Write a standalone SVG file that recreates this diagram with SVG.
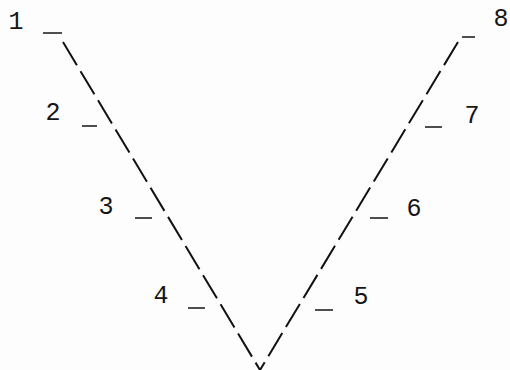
<svg xmlns="http://www.w3.org/2000/svg" width="510" height="370" viewBox="0 0 510 370">
  <style>
    .lbl { font-family: "Liberation Mono", "Courier New", monospace; font-size: 25px; fill: #151515; text-anchor: middle; }
    .tick { stroke: #222; stroke-width: 1.6; fill: none; }
    .dash { stroke: #111; stroke-width: 2; fill: none; stroke-dasharray: 27 7; }
  </style>
  <rect width="510" height="370" fill="#fdfdfd"/>
  <g id="connectors">
    <line class="dash" x1="63" y1="42" x2="260" y2="370"/>
    <line class="dash" x1="458" y1="42" x2="260" y2="370"/>
  </g>
  <g id="n1"><text class="lbl" x="16" y="29">1</text><line class="tick" x1="43" y1="33" x2="62" y2="33"/></g>
  <g id="n2"><text class="lbl" x="53" y="120">2</text><line class="tick" x1="82" y1="126" x2="97" y2="126"/></g>
  <g id="n3"><text class="lbl" x="106" y="214">3</text><line class="tick" x1="135" y1="218" x2="152" y2="218"/></g>
  <g id="n4"><text class="lbl" x="161" y="303">4</text><line class="tick" x1="188" y1="308" x2="205" y2="308"/></g>
  <g id="n5"><text class="lbl" x="361" y="304">5</text><line class="tick" x1="315" y1="310" x2="333" y2="310"/></g>
  <g id="n6"><text class="lbl" x="414" y="216">6</text><line class="tick" x1="370" y1="218" x2="388" y2="218" stroke="#555"/></g>
  <g id="n7"><text class="lbl" x="472" y="123">7</text><line class="tick" x1="425" y1="127" x2="442" y2="127"/></g>
  <g id="n8"><text class="lbl" x="501" y="26">8</text><line class="tick" x1="462" y1="37" x2="475" y2="37"/></g>
</svg>
